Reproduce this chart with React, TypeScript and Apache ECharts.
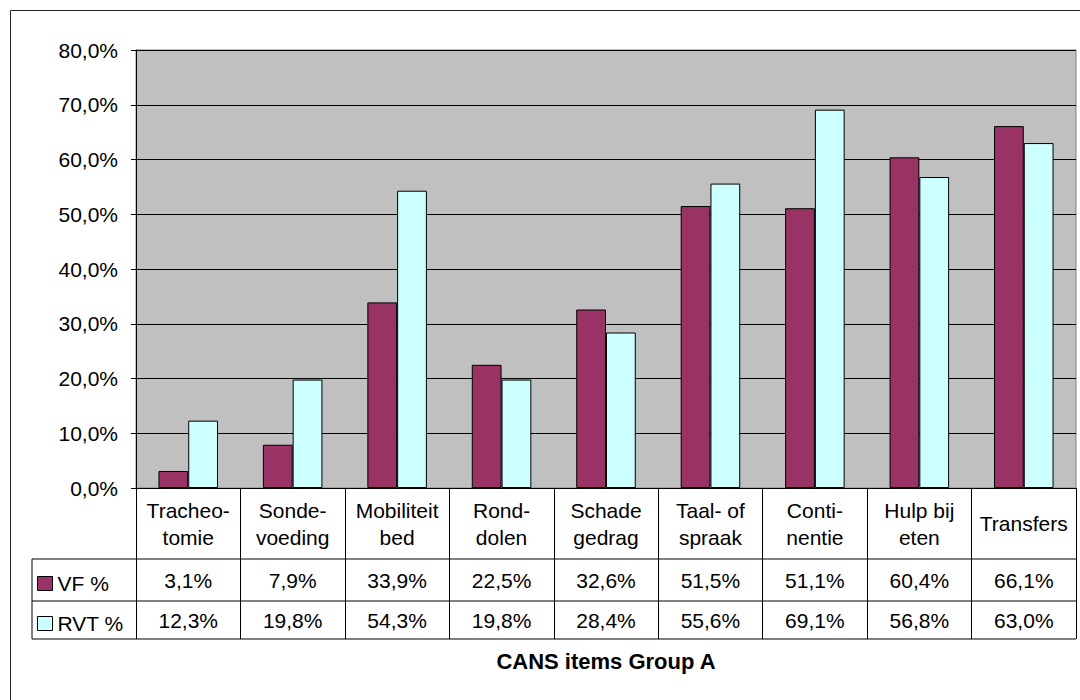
import React, { useEffect, useRef } from "react";
import * as echarts from "echarts";

const categories = [
  "Tracheo-\ntomie",
  "Sonde-\nvoeding",
  "Mobiliteit\nbed",
  "Rond-\ndolen",
  "Schade\ngedrag",
  "Taal- of\nspraak",
  "Conti-\nnentie",
  "Hulp bij\neten",
  "Transfers",
];
const seriesNames = ["VF %", "RVT %"];
const vfValues = [3.1, 7.9, 33.9, 22.5, 32.6, 51.5, 51.1, 60.4, 66.1];
const rvtValues = [12.3, 19.8, 54.3, 19.8, 28.4, 55.6, 69.1, 56.8, 63.0];
const yMin = 0;
const yMax = 80;
const yStep = 10;
const axisTitle = "CANS items Group A";

const fmt = (v: number) => v.toFixed(1).replace(".", ",") + "%";

const FONT = "'Liberation Sans', Arial, Helvetica, sans-serif";
const FS = 21;
const GRID = { left: 136, top: 50, width: 940, height: 438 };
const AXIS_Y = GRID.top + GRID.height; // 488
const CAT_ROW = 71;
const VF_ROW = 42;
const RVT_ROW = 38;
const TABLE_LEFT = 32;
const TABLE_RIGHT = GRID.left + GRID.width;

export default function App() {
  const ref = useRef<HTMLDivElement>(null);
  useEffect(() => {
    if (!ref.current) return;
    const chart = echarts.init(ref.current, undefined, { renderer: "svg" });
    const y1 = AXIS_Y + CAT_ROW;
    const y2 = y1 + VF_ROW;
    const y3 = y2 + RVT_ROW;
    const hLine = (y: number) => ({
      type: "line",
      shape: { x1: TABLE_LEFT, y1: y, x2: TABLE_RIGHT, y2: y },
      style: { stroke: "#000", lineWidth: 1 },
      z: 10,
    });
    const option: any = {
      animation: false,
      textStyle: { fontFamily: FONT },
      grid: {
        left: GRID.left,
        top: GRID.top,
        width: GRID.width,
        height: GRID.height,
        show: true,
        backgroundColor: "#C0C0C0",
        borderColor: "#808080",
        borderWidth: 1,
      },
      legend: [
        {
          data: [seriesNames[0]],
          left: 37,
          top: y1 + VF_ROW / 2 - 7,
          itemWidth: 15,
          itemHeight: 14,
          icon: "rect",
          itemStyle: { borderColor: "#000", borderWidth: 1 },
          textStyle: { fontSize: FS, color: "#000", fontFamily: FONT },
          padding: 0,
        },
        {
          data: [seriesNames[1]],
          left: 37,
          top: y2 + RVT_ROW / 2 - 7,
          itemWidth: 15,
          itemHeight: 14,
          icon: "rect",
          itemStyle: { borderColor: "#000", borderWidth: 1 },
          textStyle: { fontSize: FS, color: "#000", fontFamily: FONT },
          padding: 0,
        },
      ],
      xAxis: [
        {
          type: "category",
          data: categories,
          position: "bottom",
          boundaryGap: true,
          axisLine: { show: true, lineStyle: { color: "#000", width: 1 } },
          axisTick: {
            show: true,
            interval: 0,
            length: CAT_ROW + VF_ROW + RVT_ROW,
            lineStyle: { color: "#000", width: 1 },
          },
          axisLabel: {
            interval: 0,
            margin: CAT_ROW / 2,
            verticalAlign: "middle",
            lineHeight: 27,
            fontSize: FS,
            color: "#000",
            fontFamily: FONT,
          },
          splitLine: { show: false },
        },
        {
          type: "category",
          data: categories,
          position: "bottom",
          axisLine: { show: false },
          axisTick: { show: false },
          axisLabel: {
            interval: 0,
            margin: CAT_ROW + VF_ROW / 2,
            verticalAlign: "middle",
            fontSize: FS,
            color: "#000",
            fontFamily: FONT,
            formatter: (_v: string, i: number) => fmt(vfValues[i]),
          },
        },
        {
          type: "category",
          data: categories,
          position: "bottom",
          axisLine: { show: false },
          axisTick: { show: false },
          axisLabel: {
            interval: 0,
            margin: CAT_ROW + VF_ROW + RVT_ROW / 2,
            verticalAlign: "middle",
            fontSize: FS,
            color: "#000",
            fontFamily: FONT,
            formatter: (_v: string, i: number) => fmt(rvtValues[i]),
          },
        },
      ],
      yAxis: {
        type: "value",
        min: yMin,
        max: yMax,
        interval: yStep,
        axisLine: { show: true, lineStyle: { color: "#000", width: 1 } },
        axisTick: { show: true, length: 5, lineStyle: { color: "#000" } },
        axisLabel: {
          margin: 18,
          fontSize: FS,
          color: "#000",
          fontFamily: FONT,
          formatter: (v: number) => fmt(v),
        },
        splitLine: { show: true, lineStyle: { color: "#000", width: 1 } },
      },
      series: [
        {
          name: seriesNames[0],
          type: "bar",
          data: vfValues,
          barGap: "0%",
          barCategoryGap: "43%",
          itemStyle: { color: "#993366", borderColor: "#000", borderWidth: 1 },
        },
        {
          name: seriesNames[1],
          type: "bar",
          data: rvtValues,
          barGap: "0%",
          barCategoryGap: "43%",
          itemStyle: { color: "#CCFFFF", borderColor: "#000", borderWidth: 1 },
        },
      ],
      graphic: [
        {
          type: "rect",
          shape: { x: 10.5, y: 10.5, width: 1100, height: 720 },
          style: { fill: "none", stroke: "#222", lineWidth: 1 },
          silent: true,
        },
        hLine(y1),
        hLine(y2),
        hLine(y3),
        {
          type: "line",
          shape: { x1: TABLE_LEFT, y1: y1, x2: TABLE_LEFT, y2: y3 },
          style: { stroke: "#000", lineWidth: 1 },
          z: 10,
        },
        {
          type: "text",
          x: GRID.left + GRID.width / 2,
          y: 661,
          style: {
            text: axisTitle,
            fill: "#000",
            font: `bold 22px ${FONT}`,
            textAlign: "center",
            textVerticalAlign: "middle",
          },
        },
      ],
    };
    chart.setOption(option);
    return () => chart.dispose();
  }, []);
  return (
    <div
      ref={ref}
      style={{ position: "absolute", left: 0, top: 0, width: 1080, height: 700, background: "#fff" }}
    />
  );
}
